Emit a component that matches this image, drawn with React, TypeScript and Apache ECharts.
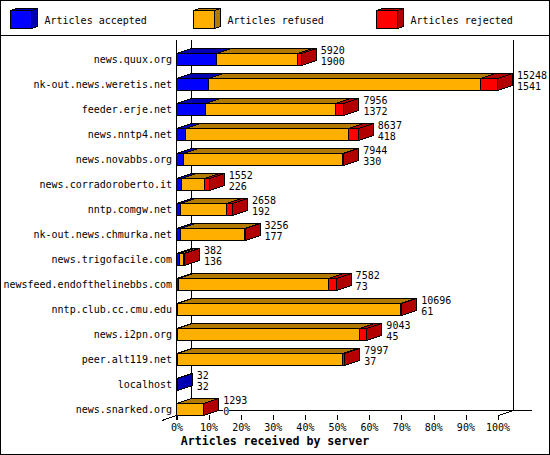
import React, { useEffect, useRef } from "react";
import * as echarts from "echarts";

const servers = [
  "news.quux.org",
  "nk-out.news.weretis.net",
  "feeder.erje.net",
  "news.nntp4.net",
  "news.novabbs.org",
  "news.corradoroberto.it",
  "nntp.comgw.net",
  "nk-out.news.chmurka.net",
  "news.trigofacile.com",
  "newsfeed.endofthelinebbs.com",
  "nntp.club.cc.cmu.edu",
  "news.i2pn.org",
  "peer.alt119.net",
  "localhost",
  "news.snarked.org",
];
const totals = [5920, 15248, 7956, 8637, 7944, 1552, 2658, 3256, 382, 7582, 10696, 9043, 7997, 32, 1293];
const accepted = [1900, 1541, 1372, 418, 330, 226, 192, 177, 136, 73, 61, 45, 37, 32, 0];
const rejected = [190, 787, 427, 475, 40, 200, 290, 40, 40, 380, 40, 330, 100, 0, 4];
const refused = totals.map((t, i) => t - accepted[i] - rejected[i]);
const legendNames = ["Articles accepted", "Articles refused", "Articles rejected"];
const frontColors = ["#0000ff", "#ffaf00", "#ff0000"];
const darkColors = ["#0000b2", "#b27a00", "#b20000"];
const xTicks = [0, 10, 20, 30, 40, 50, 60, 70, 80, 90, 100];
const maxTotal = Math.max(...totals);
const DX = 15;
const DY = 5;
const MONO = "'DejaVu Sans Mono', monospace";

const rows = servers.map((_, i) => [i, accepted[i], refused[i], rejected[i], totals[i]]);

function box(x0: number, x1: number, top: number, bottom: number, dx: number, dy: number, c: number) {
  const common = { stroke: "#000", lineWidth: 1 };
  return [
    { type: "polygon", shape: { points: [[x0, top], [x0 + dx, top - dy], [x1 + dx, top - dy], [x1, top]] }, style: { fill: darkColors[c], ...common } },
    { type: "polygon", shape: { points: [[x1, top], [x1 + dx, top - dy], [x1 + dx, bottom - dy], [x1, bottom]] }, style: { fill: darkColors[c], ...common } },
    { type: "polygon", shape: { points: [[x0, top], [x1, top], [x1, bottom], [x0, bottom]] }, style: { fill: frontColors[c], ...common } },
  ];
}

function renderItem(_: any, api: any) {
  const i = api.value(0);
  const scale = 100 / maxTotal;
  const segs = [api.value(1), api.value(2), api.value(3)];
  const centerY = api.coord([0, i])[1];
  const top = Math.round(centerY - 6) + 0.5;
  const bottom = top + 12;
  const children: any[] = [];
  let sum = 0;
  segs.forEach((v: number, c: number) => {
    if (v <= 0) return;
    const x0 = api.coord([sum * scale, i])[0];
    sum += v;
    const x1 = api.coord([sum * scale, i])[0];
    children.push(...box(Math.round(x0) - 0.5, Math.round(x1) - 0.5, top, bottom, DX, DY, c));
  });
  const end = api.coord([api.value(4) * scale, i])[0] + DX + 4;
  [api.value(4), api.value(1)].forEach((v: number, k: number) => {
    children.push({
      type: "text",
      x: end,
      y: top - 3 + k * 11,
      style: {
        text: String(v),
        fill: "#000",
        font: `10px ${MONO}`,
        align: "left",
        verticalAlign: "middle",
        backgroundColor: "#fff",
      },
    });
  });
  return { type: "group", children };
}

function legendGraphic() {
  const xs = [10.5, 193.5, 376.5];
  const out: any[] = [];
  xs.forEach((x, c) => {
    const parts = box(x, x + 21, 10.5, 28.5, 6, 2, c);
    parts.forEach((p) => out.push({ ...p, z: 5 }));
    out.push({
      type: "text",
      x: x + 34,
      y: 20,
      z: 5,
      style: { text: legendNames[c], fill: "#000", font: `10px ${MONO}`, verticalAlign: "middle" },
    });
  });
  return out;
}

const line = (x1: number, y1: number, x2: number, y2: number) => ({
  type: "line",
  z: 1,
  shape: { x1, y1, x2, y2 },
  style: { stroke: "#000", lineWidth: 1 },
});

export default function App() {
  const ref = useRef<HTMLDivElement>(null);
  useEffect(() => {
    document.body.style.margin = "0";
    document.body.style.background = "#fff";
    const chart = echarts.init(ref.current!, undefined, { renderer: "svg", width: 550, height: 455 });
    chart.setOption({
      animation: false,
      backgroundColor: "#fff",
      title: {
        text: "Articles received by server",
        left: "center",
        top: 435,
        padding: 0,
        textStyle: { fontFamily: MONO, fontWeight: "bold", fontSize: 11.6, color: "#000" },
      },
      grid: { left: 177, top: 46.5, width: 321, height: 375, containLabel: false },
      xAxis: {
        type: "value",
        min: xTicks[0],
        max: xTicks[xTicks.length - 1],
        interval: 10,
        offset: -6.5,
        position: "bottom",
        axisLine: { show: false },
        axisTick: { show: true, length: 5, lineStyle: { color: "#000", width: 1 } },
        splitLine: { show: false },
        axisLabel: { formatter: "{value}%", fontFamily: MONO, fontSize: 10, color: "#000", margin: 7 },
      },
      yAxis: {
        type: "category",
        inverse: true,
        data: servers,
        axisLine: { show: false },
        axisTick: { show: false },
        axisLabel: { fontFamily: MONO, fontSize: 10, color: "#000", margin: 5, interval: 0 },
      },
      graphic: [
        { type: "rect", z: 0, shape: { x: 0.5, y: 0.5, width: 549, height: 454 }, style: { fill: "none", stroke: "#000", lineWidth: 1 } },
        line(0, 35.5, 550, 35.5),
        line(176.5, 40, 176.5, 420),
        line(191.5, 40, 191.5, 410.5),
        line(513.5, 40, 513.5, 410.5),
        line(191, 410.5, 532, 410.5),
        line(162, 420.5, 191.5, 410.5),
        line(498.5, 415.5, 513.5, 410.5),
        ...legendGraphic(),
      ],
      series: [
        {
          type: "custom",
          coordinateSystem: "cartesian2d",
          renderItem,
          encode: { x: 1, y: 0 },
          clip: false,
          silent: true,
          z: 3,
          data: rows,
        },
      ],
    });
    return () => chart.dispose();
  }, []);
  return (
    <>
      <style>{`svg path, svg line, svg rect, svg polygon { shape-rendering: crispEdges; }`}</style>
      <div ref={ref} style={{ width: 550, height: 455 }} />
    </>
  );
}
